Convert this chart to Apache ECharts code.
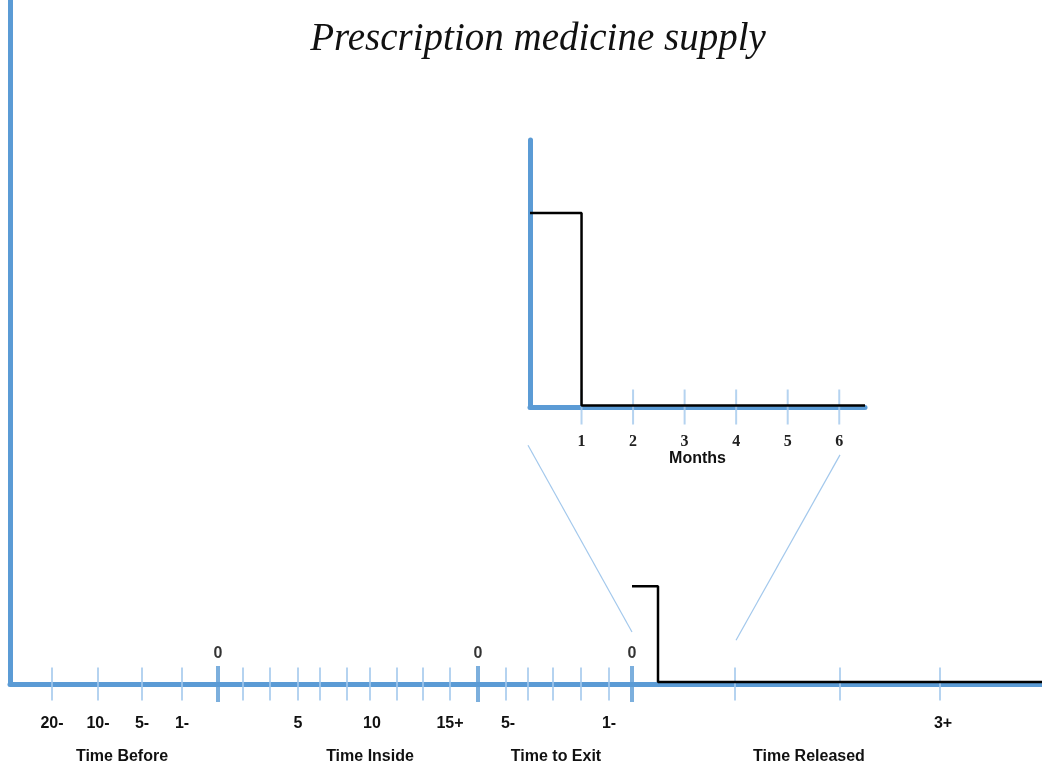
<!DOCTYPE html>
<html>
<head>
<meta charset="utf-8">
<script src="https://cdn.jsdelivr.net/npm/echarts@6/dist/echarts.min.js"></script>
<style>
  html, body { margin: 0; padding: 0; background: #fff; }
  #chart { width: 1042px; height: 774px; }
</style>
</head>
<body>
<div id="chart"></div>
<script>
// timeline positions are schematic units along the main axis (0 = left axis)
const minorTicks = [42, 88, 132, 172, 233, 260, 288, 310, 337, 360, 387, 413, 440, 496, 518, 543, 571, 599, 725, 830, 930];
const majorTicks = [208, 468, 622];
const numberPositions = [42, 88, 132, 172, 288, 362, 440, 498, 599, 933];
const numberLabels = ['20-', '10-', '5-', '1-', '5', '10', '15+', '5-', '1-', '3+'];
const sectionPositions = [112, 360, 546, 799];
const sectionLabels = ['Time Before', 'Time Inside', 'Time to Exit', 'Time Released'];

// supply level (main timeline)
const supplyX = [622, 648, 648, 1032];
const supplyY = [14.3, 14.3, 0.3, 0.3];

// zoom connectors (main timeline units)
const connectorLeft = [[518, 34.9], [622, 7.6]];
const connectorRight = [[830, 33.5], [726, 6.4]];

// inset: months after release
const months = [1, 2, 3, 4, 5, 6];
const insetX = [0, 1, 1, 6.5];
const insetY = [72.7, 72.7, 0.6, 0.6];

const blue = '#5b9bd5';
const lightBlue = '#a3c8ec';
const sans = 'Liberation Sans';

const chart = echarts.init(document.getElementById('chart'));

chart.setOption({
  animation: false,
  backgroundColor: '#fff',
  title: {
    text: 'Prescription medicine supply',
    left: 533,
    textAlign: 'center',
    top: 15,
    textStyle: {
      fontFamily: 'Liberation Serif',
      fontStyle: 'italic',
      fontWeight: 'normal',
      fontSize: 39,
      color: '#111'
    }
  },
  grid: [
    { left: 10, top: 0, width: 1032, height: 684, outerBoundsMode: 'none' },
    { left: 530, top: 140, width: 335, height: 267, outerBoundsMode: 'none' }
  ],
  xAxis: [
    {
      type: 'value', gridIndex: 0, min: 0, max: 1032, position: 'bottom',
      axisLine: { lineStyle: { color: blue, width: 5 } },
      axisTick: { show: false },
      splitLine: { show: false },
      axisLabel: {
        customValues: numberPositions,
        formatter: v => numberLabels[numberPositions.indexOf(v)],
        margin: 32,
        fontFamily: sans, fontWeight: 'bold', fontSize: 16, color: '#111'
      }
    },
    {
      type: 'value', gridIndex: 0, min: 0, max: 1032, position: 'bottom',
      axisLine: { show: false },
      axisTick: { show: false },
      splitLine: { show: false },
      axisLabel: {
        customValues: sectionPositions,
        formatter: v => sectionLabels[sectionPositions.indexOf(v)],
        margin: 65,
        fontFamily: sans, fontWeight: 'bold', fontSize: 16, color: '#111'
      }
    },
    {
      type: 'value', gridIndex: 1, min: 0, max: 6.5,
      axisLine: { lineStyle: { color: blue, width: 5 } },
      axisTick: { show: false },
      splitLine: { show: false },
      axisLabel: {
        customValues: months,
        margin: 27,
        fontFamily: 'Liberation Serif', fontWeight: 'bold', fontSize: 16, color: '#222'
      },
      name: 'Months',
      nameLocation: 'middle',
      nameGap: 36,
      nameTextStyle: { fontFamily: sans, fontWeight: 'bold', fontSize: 16, color: '#111' }
    }
  ],
  yAxis: [
    {
      type: 'value', gridIndex: 0, min: 0, max: 100,
      axisLine: { show: true, lineStyle: { color: blue, width: 5 } },
      axisTick: { show: false },
      axisLabel: { show: false },
      splitLine: { show: false }
    },
    {
      type: 'value', gridIndex: 1, min: 0, max: 100,
      axisLine: { show: true, lineStyle: { color: blue, width: 5 } },
      axisTick: { show: false },
      axisLabel: { show: false },
      splitLine: { show: false }
    }
  ],
  series: [
    {
      type: 'scatter', xAxisIndex: 0, yAxisIndex: 0, silent: true,
      symbol: 'rect', symbolSize: [2, 33],
      itemStyle: { color: lightBlue },
      data: minorTicks.map(x => [x, 0])
    },
    {
      type: 'scatter', xAxisIndex: 0, yAxisIndex: 0, silent: true,
      symbol: 'rect', symbolSize: [4, 36],
      itemStyle: { color: blue },
      label: {
        show: true, position: 'top', distance: 4, formatter: '0',
        fontFamily: sans, fontWeight: 'bold', fontSize: 16, color: '#000'
      },
      data: majorTicks.map(x => [x, 0])
    },
    {
      type: 'line', xAxisIndex: 0, yAxisIndex: 0, silent: true,
      showSymbol: false,
      lineStyle: { color: lightBlue, width: 1.2 },
      data: connectorLeft
    },
    {
      type: 'line', xAxisIndex: 0, yAxisIndex: 0, silent: true,
      showSymbol: false,
      lineStyle: { color: lightBlue, width: 1.2 },
      data: connectorRight
    },
    {
      type: 'line', xAxisIndex: 0, yAxisIndex: 0, silent: true,
      showSymbol: false,
      lineStyle: { color: '#000', width: 2.5 },
      data: supplyX.map((x, i) => [x, supplyY[i]])
    },
    {
      type: 'scatter', xAxisIndex: 2, yAxisIndex: 1, silent: true,
      symbol: 'rect', symbolSize: [2, 35],
      itemStyle: { color: lightBlue },
      data: months.map(m => [m, 0])
    },
    {
      type: 'line', xAxisIndex: 2, yAxisIndex: 1, silent: true,
      showSymbol: false,
      lineStyle: { color: '#000', width: 2.5 },
      data: insetX.map((x, i) => [x, insetY[i]])
    }
  ]
});
</script>
</body>
</html>
